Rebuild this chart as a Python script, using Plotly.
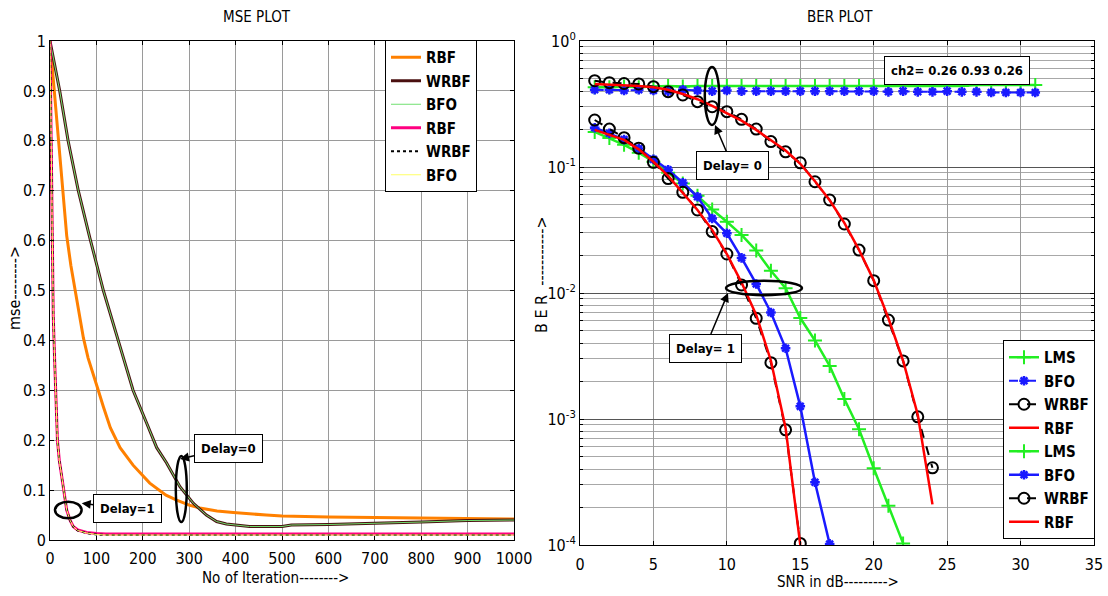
import plotly.graph_objects as go

W, H = 1108, 596
FONT = "Liberation Sans Narrow, Arial Narrow, DejaVu Sans Condensed, Liberation Sans, Arial, sans-serif"

# ---------------- MSE data (left) ----------------
iter_rbf0 = [0, 9, 18, 27, 36, 45, 54, 63, 72, 82, 93, 104, 115, 130, 151, 179, 215, 250, 273, 300,
             323, 360, 395, 430, 466, 500, 538, 600, 700, 800, 900, 1000]
mse_rbf0 = [1.0, 0.90, 0.80, 0.70, 0.61, 0.55, 0.50, 0.45, 0.405, 0.365, 0.334, 0.30, 0.267, 0.225,
            0.185, 0.15, 0.114, 0.09, 0.08, 0.07, 0.064, 0.058, 0.055, 0.052, 0.05, 0.048, 0.047,
            0.046, 0.045, 0.044, 0.043, 0.042]

iter_w0 = [0, 21, 39, 61, 86, 115, 147, 179, 208, 230, 251, 280, 309, 337, 359, 380, 400, 430,
           500, 520, 600, 700, 800, 900, 1000]
mse_wrbf0 = [1.0, 0.90, 0.80, 0.70, 0.605, 0.50, 0.40, 0.30, 0.235, 0.185, 0.155, 0.107, 0.0735,
             0.05, 0.037, 0.032, 0.03, 0.027, 0.027, 0.03, 0.031, 0.033, 0.036, 0.039, 0.04]
mse_bfo0 = [1.0, 0.90, 0.80, 0.70, 0.605, 0.50, 0.40, 0.30, 0.235, 0.185, 0.155, 0.107, 0.0735,
            0.05, 0.037, 0.032, 0.03, 0.027, 0.027, 0.03, 0.031, 0.033, 0.036, 0.039, 0.04]

iter_d1 = [0, 2, 4, 7, 10, 13, 16, 20, 25, 30, 36, 43, 50, 60, 79, 100, 120, 1000]
mse_rbf1 = [1.0, 0.80, 0.60, 0.45, 0.36, 0.27, 0.20, 0.16, 0.13, 0.095, 0.06, 0.04, 0.027, 0.02,
            0.015, 0.013, 0.012, 0.012]
mse_wrbf1 = [1.0, 0.80, 0.60, 0.45, 0.36, 0.27, 0.20, 0.16, 0.13, 0.095, 0.06, 0.04, 0.027, 0.019,
             0.014, 0.011, 0.010, 0.010]
mse_bfo1 = [1.0, 0.80, 0.60, 0.45, 0.36, 0.27, 0.20, 0.16, 0.13, 0.095, 0.06, 0.04, 0.027, 0.019,
            0.014, 0.011, 0.010, 0.010]

# ---------------- BER data (right) ----------------
snr_flat = list(range(1, 32))
ber_lms0 = [0.43, 0.43, 0.435, 0.43, 0.435, 0.44, 0.435, 0.44, 0.44, 0.44, 0.44, 0.44, 0.44, 0.44,
            0.44, 0.44, 0.44, 0.44, 0.44, 0.44, 0.44, 0.44, 0.44, 0.44, 0.44, 0.44, 0.448, 0.448,
            0.448, 0.448, 0.448]
ber_bfo0 = [0.41, 0.41, 0.405, 0.41, 0.405, 0.40, 0.41, 0.405, 0.40, 0.405, 0.40, 0.40, 0.40, 0.40,
            0.40, 0.40, 0.40, 0.40, 0.40, 0.40, 0.395, 0.40, 0.395, 0.395, 0.40, 0.395, 0.395,
            0.39, 0.39, 0.39, 0.39]
snr_d0 = list(range(1, 25))
ber_wrbf0 = [0.484, 0.467, 0.46, 0.456, 0.434, 0.396, 0.373, 0.33, 0.301, 0.275, 0.239, 0.20,
             0.159, 0.132, 0.108, 0.0764, 0.0547, 0.0353, 0.0219, 0.01253, 0.0061, 0.00289,
             0.00104, 0.00041]
ber_rbf0 = [0.455, 0.452, 0.447, 0.44, 0.43, 0.41, 0.38, 0.345, 0.305, 0.268, 0.233, 0.197, 0.163,
            0.135, 0.106, 0.077, 0.0545, 0.036, 0.022, 0.0126, 0.0063, 0.0029, 0.00108, 0.00021]

snr_lms1 = list(range(1, 23))
ber_lms1 = [0.19, 0.17, 0.15, 0.13, 0.11, 0.09, 0.074, 0.059, 0.046, 0.0368, 0.0289, 0.0217, 0.015,
            0.0109, 0.00633, 0.0042, 0.00264, 0.00144, 0.00083, 0.000407, 0.000205, 0.000103]
snr_bfo1 = list(range(1, 18))
ber_bfo1 = [0.205, 0.185, 0.165, 0.14, 0.115, 0.095, 0.075, 0.058, 0.039, 0.0298, 0.019, 0.0118,
            0.007, 0.00364, 0.00126, 0.000315, 0.000102]
snr_d1 = list(range(1, 16))
ber_wrbf1 = [0.236, 0.2, 0.171, 0.141, 0.109, 0.081, 0.063, 0.0456, 0.0307, 0.0204, 0.01157,
             0.0063, 0.0028, 0.00082, 0.000103]
ber_rbf1 = [0.197, 0.18, 0.164, 0.138, 0.11, 0.085, 0.062, 0.0456, 0.0317, 0.0204, 0.0121, 0.0067,
            0.0029, 0.00085, 0.0001]

mse_ticks_x = list(range(0, 1001, 100))
ber_decades = [1e-4, 1e-3, 1e-2, 1e-1, 1]
ber_decade_text = ["10<sup>-4</sup>", "10<sup>-3</sup>", "10<sup>-2</sup>", "10<sup>-1</sup>", "10<sup>0</sup>"]

fig = go.Figure()

def left(name, x, y, color, width, dash="solid", group=""):
    fig.add_trace(go.Scatter(x=x, y=y, mode="lines", name=name, xaxis="x", yaxis="y",
                             line=dict(color=color, width=width, dash=dash),
                             legend="legend", legendgroup=group, showlegend=True))

left("RBF", iter_rbf0, mse_rbf0, "#ff8000", 3, group="a1")
left("WRBF", iter_w0, mse_wrbf0, "#4a1010", 3, group="a2")
left("BFO", iter_w0, mse_bfo0, "#70e070", 1, group="a3")
left("RBF", iter_d1, mse_rbf1, "#ff0080", 3, group="a4")
left("WRBF", iter_d1, mse_wrbf1, "#000000", 2, dash="dot", group="a5")
left("BFO", iter_d1, mse_bfo1, "#ffff66", 1, group="a6")

def right(name, x, y, color, width, dash, symbol, msize, mlw, group):
    mode = "lines+markers" if symbol else "lines"
    marker = dict(symbol=symbol, size=msize, color=color, line=dict(color=color, width=mlw)) if symbol else None
    fig.add_trace(go.Scatter(x=x, y=y, mode=mode, name=name, xaxis="x2", yaxis="y2",
                             line=dict(color=color, width=width, dash=dash), marker=marker,
                             legend="legend2", legendgroup=group, showlegend=True))

right("LMS", snr_flat, ber_lms0, "#22ee22", 2.5, "solid", "cross-thin", 10, 2, "b1")
right("BFO", snr_flat, ber_bfo0, "#1a1aff", 2, "dash", "asterisk", 8, 2.5, "b2")
right("WRBF", snr_d0, ber_wrbf0, "#000000", 2, "dash", "circle-open", 11, 2, "b3")
right("RBF", snr_d0, ber_rbf0, "#ff0000", 2.5, "solid", None, 0, 0, "b4")
right("LMS", snr_lms1, ber_lms1, "#22ee22", 2.5, "solid", "cross-thin", 10, 2, "b5")
right("BFO", snr_bfo1, ber_bfo1, "#1a1aff", 2.5, "solid", "asterisk", 8, 2.5, "b6")
right("WRBF", snr_d1, ber_wrbf1, "#000000", 2, "dash", "circle-open", 11, 2, "b7")
right("RBF", snr_d1, ber_rbf1, "#ff0000", 2.5, "solid", None, 0, 0, "b8")

def px(x):
    return x / W

def py(y):
    return 1 - y / H

tickfont = dict(family=FONT, size=16, color="black")
axis_common = dict(showline=True, linecolor="black", linewidth=1, mirror="ticks", ticks="inside",
                   ticklen=4, tickcolor="black", showgrid=True, gridcolor="#9a9a9a", gridwidth=1,
                   zeroline=False, tickfont=tickfont, automargin=False)

minor_vals = []
for e in range(-4, 0):
    for m in range(2, 10):
        minor_vals.append(m * 10 ** e)

fig.update_layout(
    width=W, height=H, margin=dict(l=0, r=0, t=0, b=0),
    paper_bgcolor="white", plot_bgcolor="white",
    font=dict(family=FONT, size=14, color="black"),
    xaxis=dict(domain=[px(50), px(514)], range=[0, 1000], tickmode="array", tickvals=mse_ticks_x,
               anchor="y", ticklabelstandoff=4, **axis_common),
    yaxis=dict(domain=[py(540), py(41)], range=[0, 1], dtick=0.1, tick0=0, anchor="x", **axis_common),
    xaxis2=dict(domain=[px(580), px(1094)], range=[0, 35], dtick=5, tick0=0, anchor="y2",
                ticklabelstandoff=5, **axis_common),
    yaxis2=dict(domain=[py(545), py(41)], type="log", range=[-4, 0], tickmode="array",
                tickvals=ber_decades, ticktext=ber_decade_text, anchor="x2",
                minor=dict(tickmode="array", tickvals=minor_vals, showgrid=True, gridcolor="#a8a8a8",
                           ticks="inside", ticklen=3, tickcolor="black"),
                **{**axis_common, "gridcolor": "#555555"}),
    legend=dict(x=px(385), y=py(40), xanchor="left", yanchor="top", bgcolor="white",
                bordercolor="black", borderwidth=1, tracegroupgap=1,
                font=dict(family=FONT, size=15, color="black", weight="bold")),
    legend2=dict(x=px(1003), y=py(340), xanchor="left", yanchor="top", bgcolor="white",
                 bordercolor="black", borderwidth=1, tracegroupgap=1,
                 font=dict(family=FONT, size=15, color="black", weight="bold")),
)

# ellipses
def ellipse(cx, cy, rx, ry):
    fig.add_shape(type="circle", xref="paper", yref="paper",
                  x0=px(cx - rx), x1=px(cx + rx), y0=py(cy + ry), y1=py(cy - ry),
                  line=dict(color="black", width=2.5))

ellipse(181.3, 489, 5.5, 33)
ellipse(68.3, 510, 13.3, 8.3)
ellipse(712, 96, 7.2, 29)
ellipse(764, 288, 38, 7.2)

boxfont = dict(family=FONT, size=13, color="black", weight="bold")

def box(text, tipx, tipy, cx, cy, arrow=True):
    fig.add_annotation(text=text, xref="paper", yref="paper", x=px(tipx), y=py(tipy),
                       showarrow=arrow, ax=cx - tipx, ay=cy - tipy, arrowhead=2, arrowsize=1.2,
                       arrowwidth=1.5, arrowcolor="black", bordercolor="black", borderwidth=1,
                       borderpad=6, bgcolor="white", font=boxfont)

box("Delay=0", 180, 459, 228, 448)
box("Delay=1", 81.7, 503.3, 127.5, 508.7)
box("Delay= 0", 715, 125, 732.5, 165.8)
box("Delay= 1", 728, 293, 705, 348)
fig.add_annotation(text="ch2= 0.26 0.93 0.26", xref="paper", yref="paper", x=px(1030), y=py(56),
                   showarrow=False, bordercolor="black", borderwidth=1, borderpad=6, bgcolor="white",
                   font=boxfont)

# titles and axis labels
def label(text, x, y, size=15, angle=0):
    fig.add_annotation(text=text, xref="paper", yref="paper", x=px(x), y=py(y), showarrow=False,
                       xanchor="center", yanchor="middle", textangle=angle,
                       font=dict(family=FONT, size=size, color="black"))

label("MSE PLOT", 257, 17)
label("BER PLOT", 840, 17)
label("No of Iteration-------->", 275, 578)
label("SNR in dB--------->", 838, 582)
label("mse-------->", 14, 288, size=16, angle=-90)
label("B E R  ----------->", 541, 275, size=16, angle=-90)

fig.write_html("out.html")
